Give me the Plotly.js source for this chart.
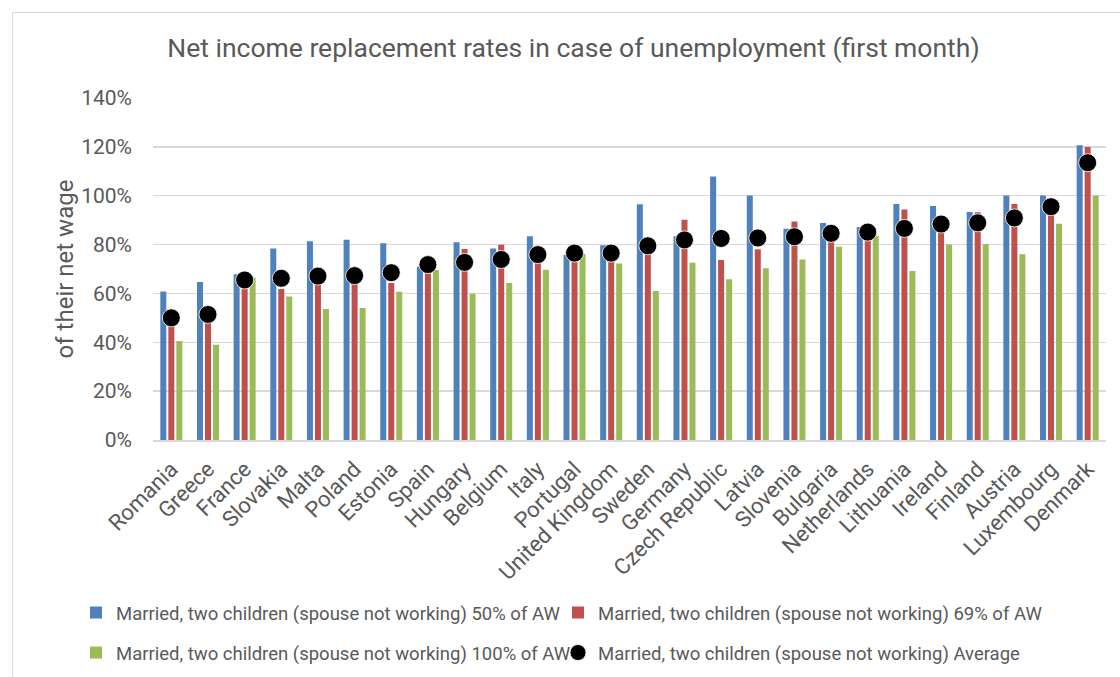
<!DOCTYPE html>
<html>
<head>
<meta charset="utf-8">
<script src="https://cdn.plot.ly/plotly-3.0.1.min.js"></script>
<style>
  html, body { margin: 0; padding: 0; background: #fff; }
  #frame { position: absolute; left: 12px; top: 12px; width: 1200px; height: 800px;
           border-left: 1.5px solid #D9D9D9; border-top: 1.5px solid #D9D9D9; }
  #chart { position: absolute; left: 0; top: 0; width: 1120px; height: 677px; }
</style>
</head>
<body>
<div id="frame"></div>
<div id="chart"></div>
<script>
const countries = ["Romania","Greece","France","Slovakia","Malta","Poland","Estonia","Spain","Hungary","Belgium","Italy","Portugal","United Kingdom","Sweden","Germany","Czech Republic","Latvia","Slovenia","Bulgaria","Netherlands","Lithuania","Ireland","Finland","Austria","Luxembourg","Denmark"];

const aw50  = [60.8, 64.7, 67.9, 78.4, 81.4, 82.0, 80.5, 70.9, 80.9, 78.4, 83.4, 75.7, 79.7, 96.5, 83.4, 107.9, 100.1, 86.5, 88.8, 87.2, 96.6, 95.8, 93.3, 100.1, 100.1, 120.7];
const aw69  = [48.5, 50.0, 62.3, 61.8, 66.3, 65.9, 64.3, 74.5, 78.2, 79.9, 74.6, 77.7, 77.5, 81.0, 90.2, 73.7, 78.1, 89.4, 85.9, 84.6, 94.4, 89.4, 93.2, 96.6, 97.9, 119.9];
const aw100 = [40.5, 39.0, 66.4, 58.7, 53.6, 54.0, 60.7, 69.6, 59.9, 64.3, 69.7, 76.1, 72.3, 61.0, 72.6, 65.8, 70.3, 73.9, 79.1, 83.5, 69.2, 80.0, 80.2, 76.0, 88.5, 100.1];
const avg   = [50.0, 51.4, 65.5, 66.2, 67.1, 67.3, 68.5, 71.8, 72.7, 73.9, 75.9, 76.5, 76.5, 79.5, 81.9, 82.5, 82.7, 83.2, 84.6, 85.1, 86.6, 88.4, 88.9, 90.9, 95.5, 113.5];

const seriesNames = [
  "Married, two children (spouse not working) 50% of AW",
  "Married, two children (spouse not working) 69% of AW",
  "Married, two children (spouse not working) 100% of AW",
  "Married, two children (spouse not working) Average"
];
const yTicks = [0, 20, 40, 60, 80, 100, 120, 140];
const yTickLabels = ["0%", "20%", "40%", "60%", "80%", "100%", "120%", "140%"];

const textColor = "#595959";
const font = "Roboto, 'Open Sans', sans-serif";

const traces = [
  { type: "bar", name: seriesNames[0], x: countries, y: aw50, marker: { color: "#4F81BD" }, legend: "legend" },
  { type: "bar", name: seriesNames[1], x: countries, y: aw69, marker: { color: "#C0504D" }, legend: "legend2" },
  { type: "bar", name: seriesNames[2], x: countries, y: aw100, marker: { color: "#9BBB59" }, legend: "legend3" },
  { type: "scatter", mode: "markers", name: seriesNames[3], x: countries, y: avg, cliponaxis: false,
    marker: { color: "#000000", size: 18, line: { color: "rgba(255,255,255,0.8)", width: 1 } }, legend: "legend4" }
];

function legendAt(px, py) {
  return {
    orientation: "h", xref: "container", yref: "container", xanchor: "left", yanchor: "middle",
    x: px / 1120, y: 1 - py / 677,
    font: { family: font, size: 18.5, color: textColor },
    itemwidth: 30, bgcolor: "rgba(0,0,0,0)"
  };
}

const layout = {
  width: 1120, height: 677,
  paper_bgcolor: "rgba(0,0,0,0)", plot_bgcolor: "rgba(0,0,0,0)",
  margin: { l: 153, r: 14, t: 98, b: 237 },
  font: { family: font, color: textColor },
  title: {
    text: "Net income replacement rates in case of unemployment (first month)",
    font: { family: font, size: 26.5, color: textColor },
    xref: "container", yref: "container", x: 0.512, xanchor: "center", y: 1 - 48/677, yanchor: "middle"
  },
  barmode: "group", bargap: 0.345, bargroupgap: 0.25,
  showlegend: true,
  xaxis: {
    type: "category", range: [-0.5, countries.length - 0.5], autorange: false,
    tickangle: -45, tickfont: { family: font, size: 22, color: textColor },
    showgrid: false, showline: true, linecolor: "#D9D9D9", linewidth: 1.5, ticks: "",
    zeroline: false, ticklabelstandoff: 6
  },
  yaxis: {
    range: [0, 140], autorange: false, tickmode: "array", tickvals: yTicks, ticktext: yTickLabels,
    tickfont: { family: font, size: 21, color: textColor },
    showgrid: true, gridcolor: "#D9D9D9", gridwidth: 1.5, zeroline: false, showline: false,
    ticks: "", ticklabelstandoff: 20,
    title: { text: "of their net wage", font: { family: font, size: 24, color: textColor }, standoff: 0 }
  },
  legend: legendAt(76, 613),
  legend2: legendAt(558, 613),
  legend3: legendAt(76, 653),
  legend4: legendAt(558, 653)
};

Plotly.newPlot("chart", traces, layout, { displayModeBar: false, staticPlot: true });
</script>
</body>
</html>
